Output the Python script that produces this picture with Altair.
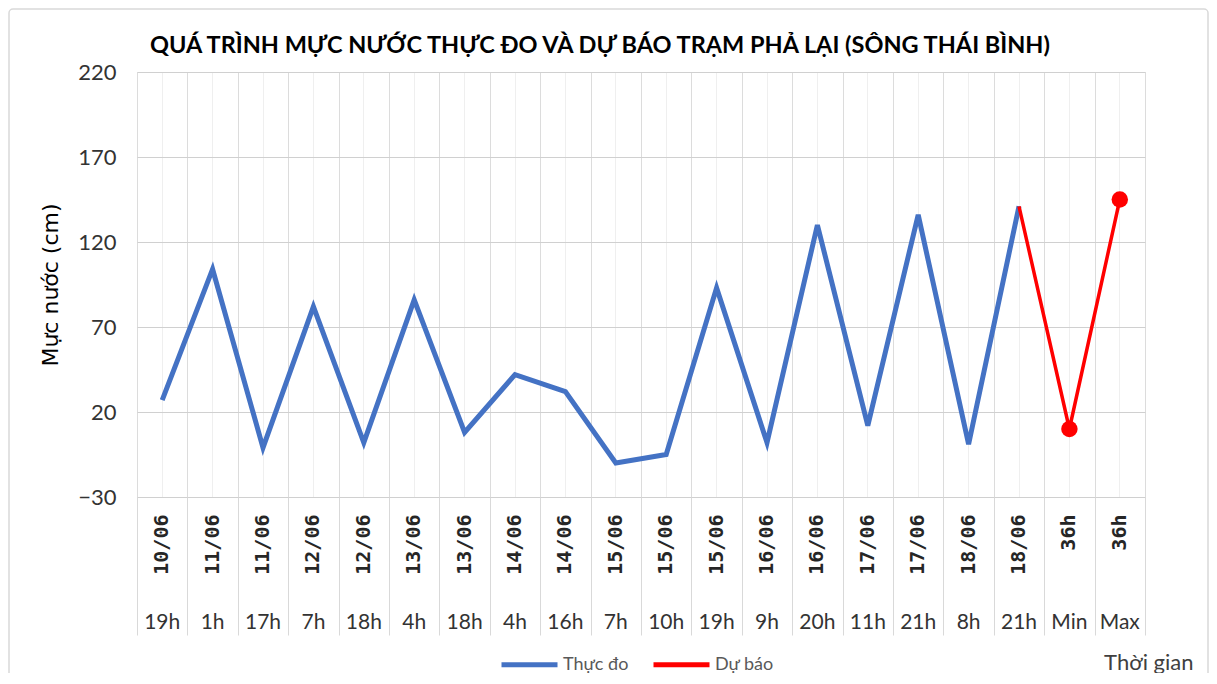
import altair as alt
import pandas as pd

TITLE = "QUÁ TRÌNH MỰC NƯỚC THỰC ĐO VÀ DỰ BÁO TRẠM PHẢ LẠI (SÔNG THÁI BÌNH)"
Y_TITLE = "Mực nước (cm)"
X_TITLE = "Thời gian"

dates = ["10/06", "11/06", "11/06", "12/06", "12/06", "13/06", "13/06", "14/06", "14/06", "15/06",
         "15/06", "15/06", "16/06", "16/06", "17/06", "17/06", "18/06", "18/06", "36h", "36h"]
hours = ["19h", "1h", "17h", "7h", "18h", "4h", "18h", "4h", "16h", "7h",
         "10h", "19h", "9h", "20h", "11h", "21h", "8h", "21h", "Min", "Max"]

measured = [27, 104, -1, 82, 2, 86, 8, 42, 32, -10, -5, 93, 2, 130, 12, 136, 1, 141]
forecast = [141, 10, 145]  # 18/06 21h (last measured), Min, Max

series_names = ["Thực đo", "Dự báo"]
series_colors = ["#4472C4", "#FF0000"]
y_ticks = [-30, 20, 70, 120, 170, 220]

keys = [f"{d}|{h}" for d, h in zip(dates, hours)]
obs = pd.DataFrame({"key": keys[:len(measured)], "value": measured, "series": series_names[0]})
fc = pd.DataFrame({"key": keys[len(measured) - 1:], "value": forecast, "series": series_names[1]})
fc_pts = fc.iloc[1:]

NARROW = "Liberation Sans Narrow, Lato, sans-serif"

xscale = alt.Scale(type="band", domain=keys, paddingInner=0, paddingOuter=0)
yscale = alt.Scale(domain=[-30, 220], nice=False, zero=False)

y_axis = alt.Axis(values=y_ticks, grid=True, gridColor="#d0d0d0", gridWidth=1,
                  domain=False, ticks=False, labelFontSize=22, labelFont=NARROW,
                  labelColor="#333333", labelPadding=21,
                  title=Y_TITLE, titleFontSize=22, titleFont="DejaVu Sans",
                  titleFontWeight="normal", titleColor="#000000", titlePadding=15)

date_axis = alt.Axis(orient="bottom", title=None,
                     labelExpr="split(datum.value, '|')[0]", labelAngle=270,
                     labelFont="DejaVu Sans Mono", labelFontSize=20, labelFontWeight="bold",
                     labelColor="#262626",
                     labelPadding=17, labelOverlap=False, ticks=False, grid=False,
                     domain=True, domainColor="#d0d0d0")

hour_axis = alt.Axis(orient="bottom", labelExpr="split(datum.value, '|')[1]", labelAngle=0,
                     labelFont=NARROW, labelFontSize=21, labelColor="#333333",
                     labelPadding=114, labelOverlap=False,
                     ticks=False, domain=False, grid=True, gridColor="#efefef",
                     title=X_TITLE, titleFont=NARROW, titleFontSize=22, titleFontWeight="normal",
                     titleColor="#404040", titleX=1056, titleY=165, titleAlign="right",
                     titleBaseline="middle", titleAngle=0)

sep_axis = alt.Axis(orient="bottom", title=None, labels=False, domain=False,
                    grid=True, gridColor="#dcdcdc",
                    ticks=True, tickBand="extent", tickSize=138, tickColor="#d9d9d9")

color = alt.Color("series:N", scale=alt.Scale(domain=series_names, range=series_colors),
                  legend=alt.Legend(title=None, orient="none", legendX=362, legendY=562,
                                    direction="horizontal", symbolType="stroke",
                                    symbolSize=3136, symbolStrokeWidth=5,
                                    labelFont=NARROW, labelFontSize=18, labelColor="#595959",
                                    labelOffset=3, columnPadding=14))

# faint outer frame of the chart (decoration only)
frame = alt.Chart(pd.DataFrame({"f": [0]})).mark_rect(
    fill=None, stroke="#d9d9d9", strokeWidth=1.5, cornerRadius=4
).encode(x=alt.value(-128), x2=alt.value(1071), y=alt.value(-63), y2=alt.value(640))

line_obs = alt.Chart(obs).mark_line(strokeWidth=5).encode(
    x=alt.X("key:N", scale=xscale, axis=date_axis, sort=keys),
    y=alt.Y("value:Q", scale=yscale, axis=y_axis),
    color=color,
)
line_fc = alt.Chart(fc).mark_line(strokeWidth=3.5).encode(
    x=alt.X("key:N", scale=xscale, axis=hour_axis, sort=keys),
    y=alt.Y("value:Q", scale=yscale, axis=y_axis),
    color=color,
)
pts = alt.Chart(fc_pts).mark_circle(size=270, opacity=1).encode(
    x=alt.X("key:N", scale=xscale, axis=sep_axis, sort=keys),
    y=alt.Y("value:Q", scale=yscale, axis=y_axis),
    color=color,
)

chart = alt.layer(frame, line_obs, line_fc, pts).resolve_axis(x="independent").properties(
    width=1008, height=425,
    title=alt.TitleParams(TITLE, anchor="start", frame="group", dx=13, dy=53, offset=4,
                          font=NARROW, fontSize=23.5, fontWeight="bold", color="#000000"),
    autosize=alt.AutoSizeParams(type="none"),
    padding={"left": 129, "top": 64, "right": 64, "bottom": 176},
).configure_view(stroke=None).configure(background="white")

chart.save("out.html", embed_options={"renderer": "svg", "actions": False})
